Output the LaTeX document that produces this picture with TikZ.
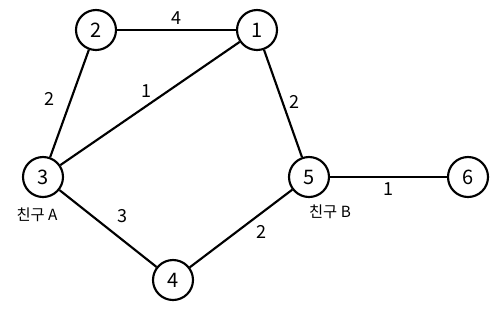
\documentclass[tikz,border=0pt]{standalone}
\usepackage{fontspec}
\setmainfont{Noto Sans CJK KR}

\begin{document}
\begin{tikzpicture}[
      x=0.75pt, y=-0.75pt,
      vertex/.style={draw, circle, line width=1.6pt, minimum size=30pt,
                     inner sep=0pt, font=\fontsize{15}{17}\selectfont},
      edge/.style={line width=1.6pt},
      weight/.style={font=\fontsize{13.5}{15}\selectfont, inner sep=1.5pt},
      tag/.style={font=\fontsize{11.5}{13}\selectfont}
   ]
      \useasboundingbox (0,0) rectangle (496,308);
      \node[vertex] (n1) at (257,30) {1};
      \node[vertex] (n2) at (96,30) {2};
      \node[vertex] (n3) at (43,177) {3};
      \node[vertex] (n4) at (173,280) {4};
      \node[vertex] (n5) at (309,177) {5};
      \node[vertex] (n6) at (468,177) {6};
      \node[tag] (tagA) at (37,215) {친구 A};
      \node[tag] (tagB) at (330,212) {친구 B};

      \draw[edge] (n2) to node[weight, pos=0.5, above=1.5pt] {4} (n1);
      \draw[edge] (n2) to node[weight, pos=0.46, left=10pt] {2} (n3);
      \draw[edge] (n1) to node[weight, pos=0.52, above=4pt] {1} (n3);
      \draw[edge] (n1) to node[weight, pos=0.49, right=2.5pt] {2} (n5);
      \draw[edge] (n3) to node[weight, pos=0.52, above right=3pt] {3} (n4);
      \draw[edge] (n4) to node[weight, pos=0.6, below right=1.5pt] {2} (n5);
      \draw[edge] (n5) to node[weight, pos=0.5, below=2pt] {1} (n6);
   \end{tikzpicture}
\end{document}
